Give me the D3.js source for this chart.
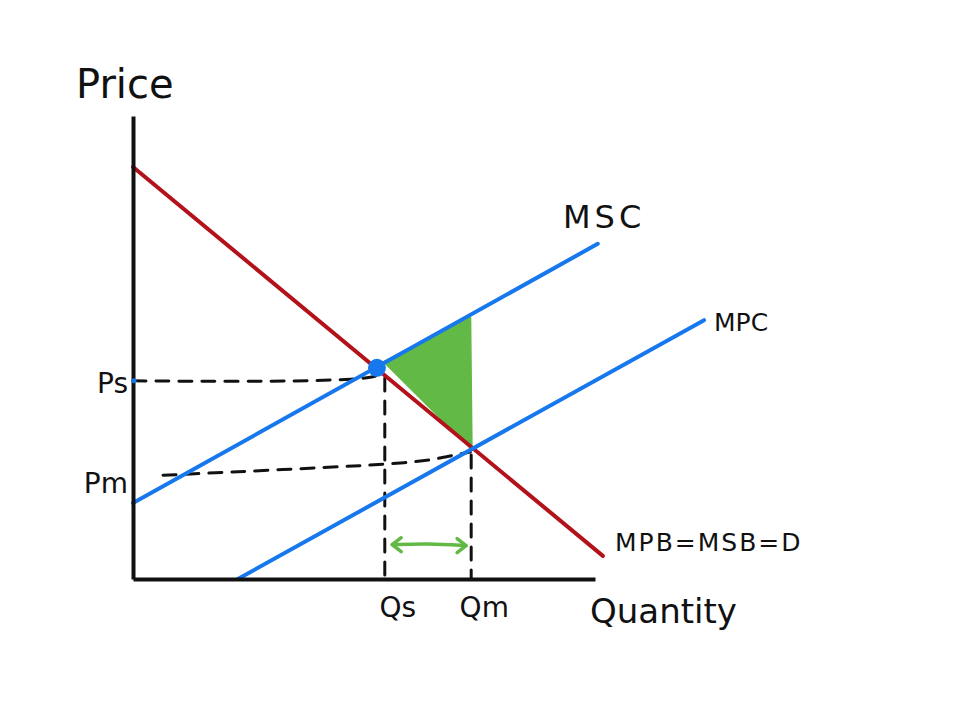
<!DOCTYPE html>
<html><head><meta charset="utf-8">
<script src="https://cdn.jsdelivr.net/npm/d3@7"></script>
<style>
html,body{margin:0;padding:0;background:#fff;}
text{font-family:"DejaVu Sans",sans-serif;fill:#111;}
</style></head>
<body><svg id="c" width="980" height="726"></svg>
<script>
// ---- data (in abstract price/quantity units) ----
const demand = [[0, 89.0], [101.7, 5.0]];          // MPB = MSB = D
const msc = [[0, 16.4], [100.6, 72.4]];            // MSC
const mpc = [[22.7, 0], [123.6, 55.9]];            // MPC
const socialEq = [52.8, 45.6];                     // dot
const priceTicks = [42.8, 23.0];                   // Ps, Pm
const priceLabels = ["Ps", "Pm"];
const qtyTicks = [54.5, 73.2];                     // Qs, Qm
const qtyLabels = ["Qs", "Qm"];
const dwlTriangle = [[54.5, 46.9], [72.9, 56.4], [73.2, 28.3]];
const psGuide = [[0, 42.8], [30, 42.6], [50, 43.1], [53, 44.0]];
const pmGuide = [[6.5, 22.4], [36, 23.8], [62, 25.1], [68, 26.5], [73, 27.4]];
const qsGuide = [[54.5, 43.4], [54.5, 0]];
const qmGuide = [[73.2, 26.8], [73.2, 0]];
const arrow = [[56.1, 7.4], [64, 7.7], [72.1, 7.2]];

const svg = d3.select("#c");
const x = d3.scaleLinear().domain([0, 100]).range([133, 595]);
const y = d3.scaleLinear().domain([0, 100]).range([579, 116]);
const line = d3.line().x(d => x(d[0])).y(d => y(d[1]));
const curve = d3.line().x(d => x(d[0])).y(d => y(d[1])).curve(d3.curveBasis);

const RED = "#b3121b", BLUE = "#1778ee", GREEN = "#62b946";

// dead-weight loss triangle
svg.append("path").attr("d", line(dwlTriangle) + "Z").attr("fill", GREEN)
  .attr("stroke", GREEN).attr("stroke-width", 3).attr("stroke-linejoin", "round");

// dashed guides
[psGuide, pmGuide, qsGuide, qmGuide].forEach(g => {
  svg.append("path").attr("d", curve(g)).attr("fill", "none")
    .attr("stroke", "#111").attr("stroke-width", 3)
    .attr("stroke-dasharray", "13,10").attr("stroke-linecap", "round");
});

// curves
svg.append("path").attr("d", line(demand)).attr("stroke", RED).attr("stroke-width", 4).attr("fill", "none").attr("stroke-linecap", "round");
svg.append("path").attr("d", line(msc)).attr("stroke", BLUE).attr("stroke-width", 4).attr("fill", "none").attr("stroke-linecap", "round");
svg.append("path").attr("d", line(mpc)).attr("stroke", BLUE).attr("stroke-width", 4).attr("fill", "none").attr("stroke-linecap", "round");

// axes
const yAxis = d3.axisLeft(y).tickValues(priceTicks).tickFormat((d, i) => priceLabels[i]).tickSize(0).tickSizeOuter(0).tickPadding(5);
const xAxis = d3.axisBottom(x).tickValues(qtyTicks).tickFormat((d, i) => qtyLabels[i]).tickSize(0).tickSizeOuter(0).tickPadding(18);
const gy = svg.append("g").attr("transform", `translate(${x(0)},0)`).call(yAxis);
const gx = svg.append("g").attr("transform", `translate(0,${y(0)})`).call(xAxis);
[gy, gx].forEach(g => {
  g.select(".domain").attr("stroke", "#111").attr("stroke-width", 4);
  g.selectAll("text").style("font-family", "DejaVu Sans, sans-serif").style("font-size", "28px").attr("fill", "#111");
});
gy.selectAll(".tick text").attr("dy", (d, i) => i === 0 ? "0.4em" : "0.7em");
gx.selectAll(".tick text").attr("dx", (d, i) => i === 0 ? "0.45em" : "0.45em");

// equilibrium dot
svg.append("circle").attr("cx", x(socialEq[0])).attr("cy", y(socialEq[1])).attr("r", 9).attr("fill", BLUE);
svg.append("circle").attr("cx", x(0) + 1).attr("cy", y(priceTicks[0])).attr("r", 2.5).attr("fill", BLUE);

// green double arrow
svg.append("path").attr("d", curve(arrow)).attr("fill", "none").attr("stroke", GREEN).attr("stroke-width", 3.5).attr("stroke-linecap", "round");
const a0 = arrow[0], a1 = arrow[arrow.length - 1];
svg.append("path").attr("d", `M${x(a0[0]) + 9},${y(a0[1]) - 7} L${x(a0[0])},${y(a0[1])} L${x(a0[0]) + 9},${y(a0[1]) + 7}`)
  .attr("fill", "none").attr("stroke", GREEN).attr("stroke-width", 3.5).attr("stroke-linecap", "round").attr("stroke-linejoin", "round");
svg.append("path").attr("d", `M${x(a1[0]) - 9},${y(a1[1]) - 7} L${x(a1[0])},${y(a1[1])} L${x(a1[0]) - 9},${y(a1[1]) + 7}`)
  .attr("fill", "none").attr("stroke", GREEN).attr("stroke-width", 3.5).attr("stroke-linecap", "round").attr("stroke-linejoin", "round");

// titles & curve labels
svg.append("text").attr("x", 76).attr("y", 98).style("font-size", "40px").text("Price");
svg.append("text").attr("x", 590).attr("y", 623).style("font-size", "34px").text("Quantity");
svg.append("text").attr("x", 563).attr("y", 228).style("font-size", "32px").style("letter-spacing", "4px").text("MSC");
svg.append("text").attr("x", 714).attr("y", 331).style("font-size", "25px").text("MPC");
svg.append("text").attr("x", 615).attr("y", 551).style("font-size", "25px").style("letter-spacing", "2px").text("MPB=MSB=D");
</script></body></html>
